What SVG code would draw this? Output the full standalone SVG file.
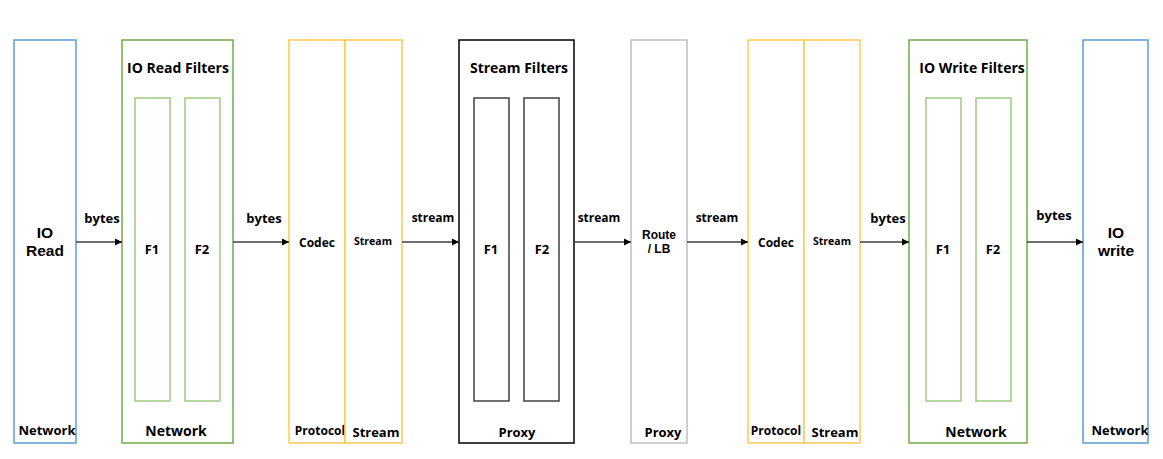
<svg xmlns="http://www.w3.org/2000/svg" width="1163" height="459" viewBox="0 0 1163 459">
<defs>
<marker id="ah" markerWidth="8" markerHeight="8" refX="7" refY="4" orient="auto" markerUnits="userSpaceOnUse">
<path d="M0,0.5 L7,4 L0,7.5 Z" fill="#000"/>
</marker>
<style>
text{font-family:"Open Sans","Liberation Sans",sans-serif;font-weight:bold;fill:#000;text-anchor:middle}
text.lib{font-family:"Liberation Sans",Arial,sans-serif}
.blue{fill:#fff;stroke:#5B9BD5;stroke-width:1.5}
.green{fill:#fff;stroke:#70AD47;stroke-width:1.5}
.lgreen{fill:#fff;stroke:#9DCB82;stroke-width:1.5}
.orange{fill:#fff;stroke:#FFC94D;stroke-width:1.5}
.gray{fill:#fff;stroke:#BFBFBF;stroke-width:1.5}
.black{fill:#fff;stroke:#000;stroke-width:1.5}
.dgray{fill:#fff;stroke:#404040;stroke-width:1.5}
.conn{stroke:#404040;stroke-width:1.5;fill:none;marker-end:url(#ah)}
.t16{font-size:15.5px}.t14{font-size:14px}.t13{font-size:13px}.t12{font-size:12px}.t10{font-size:10.5px}
</style>
</defs>
<rect width="1163" height="459" fill="#fff"/>

<g id="io-read">
<rect class="blue" x="14" y="40" width="62" height="403"/>
<text class="t16 lib" x="45" y="238">IO</text>
<text class="t16 lib" x="45" y="256">Read</text>
<text class="t13" x="47" y="435">Network</text>
</g>

<g id="io-read-filters">
<rect class="green" x="122" y="40" width="111" height="403"/>
<text class="t14" x="178" y="73">IO Read Filters</text>
<rect class="lgreen" x="135" y="98" width="35" height="303"/>
<rect class="lgreen" x="185" y="98" width="35" height="303"/>
<text class="t13" x="152" y="254">F1</text>
<text class="t13" x="202" y="254">F2</text>
<text class="t14" x="176" y="436">Network</text>
</g>

<g id="protocol-left">
<rect class="orange" x="289" y="40" width="56" height="403"/>
<text class="t12" x="317" y="247">Codec</text>
<text class="t12" x="320" y="435">Protocol</text>
</g>
<g id="stream-left">
<rect class="orange" x="345" y="40" width="57" height="403"/>
<text class="t10" x="373" y="245">Stream</text>
<text class="t13" x="376" y="437">Stream</text>
</g>

<g id="stream-filters">
<rect class="black" x="459" y="40" width="115" height="403"/>
<text class="t14" x="519" y="73">Stream Filters</text>
<rect class="dgray" x="474" y="98" width="35" height="303"/>
<rect class="dgray" x="524" y="98" width="35" height="303"/>
<text class="t13" x="491" y="254">F1</text>
<text class="t13" x="542" y="254">F2</text>
<text class="t13" x="517" y="437">Proxy</text>
</g>

<g id="route-lb">
<rect class="gray" x="631" y="40" width="56" height="403"/>
<text class="t12 lib" x="659" y="239">Route</text>
<text class="t12 lib" x="659" y="253">/ LB</text>
<text class="t13" x="663" y="437">Proxy</text>
</g>

<g id="protocol-right">
<rect class="orange" x="748" y="40" width="56" height="403"/>
<text class="t12" x="776" y="247">Codec</text>
<text class="t12" x="776" y="435">Protocol</text>
</g>
<g id="stream-right">
<rect class="orange" x="804" y="40" width="56" height="403"/>
<text class="t10" x="832" y="245">Stream</text>
<text class="t13" x="835" y="437">Stream</text>
</g>

<g id="io-write-filters">
<rect class="green" x="909" y="40" width="118" height="403"/>
<text class="t14" x="972" y="73">IO Write Filters</text>
<rect class="lgreen" x="926" y="98" width="35" height="303"/>
<rect class="lgreen" x="976" y="98" width="35" height="303"/>
<text class="t13" x="943" y="254">F1</text>
<text class="t13" x="993" y="254">F2</text>
<text class="t14" x="976" y="437">Network</text>
</g>

<g id="io-write">
<rect class="blue" x="1083" y="40" width="65" height="403"/>
<text class="t16 lib" x="1116" y="238">IO</text>
<text class="t16 lib" x="1116" y="256">write</text>
<text class="t13" x="1120" y="435">Network</text>
</g>

<g id="connectors">
<line class="conn" x1="76" y1="242" x2="122" y2="242"/>
<line class="conn" x1="233" y1="242" x2="289" y2="242"/>
<line class="conn" x1="402" y1="242" x2="459" y2="242"/>
<line class="conn" x1="574" y1="242" x2="631" y2="242"/>
<line class="conn" x1="687" y1="242" x2="748" y2="242"/>
<line class="conn" x1="860" y1="242" x2="909" y2="242"/>
<line class="conn" x1="1027" y1="242" x2="1083" y2="242"/>
<text class="t13" x="102" y="223">bytes</text>
<text class="t13" x="264" y="223">bytes</text>
<text class="t12" x="433" y="222">stream</text>
<text class="t12" x="599" y="222">stream</text>
<text class="t12" x="717" y="222">stream</text>
<text class="t13" x="888" y="223">bytes</text>
<text class="t13" x="1054" y="220">bytes</text>
</g>
</svg>
